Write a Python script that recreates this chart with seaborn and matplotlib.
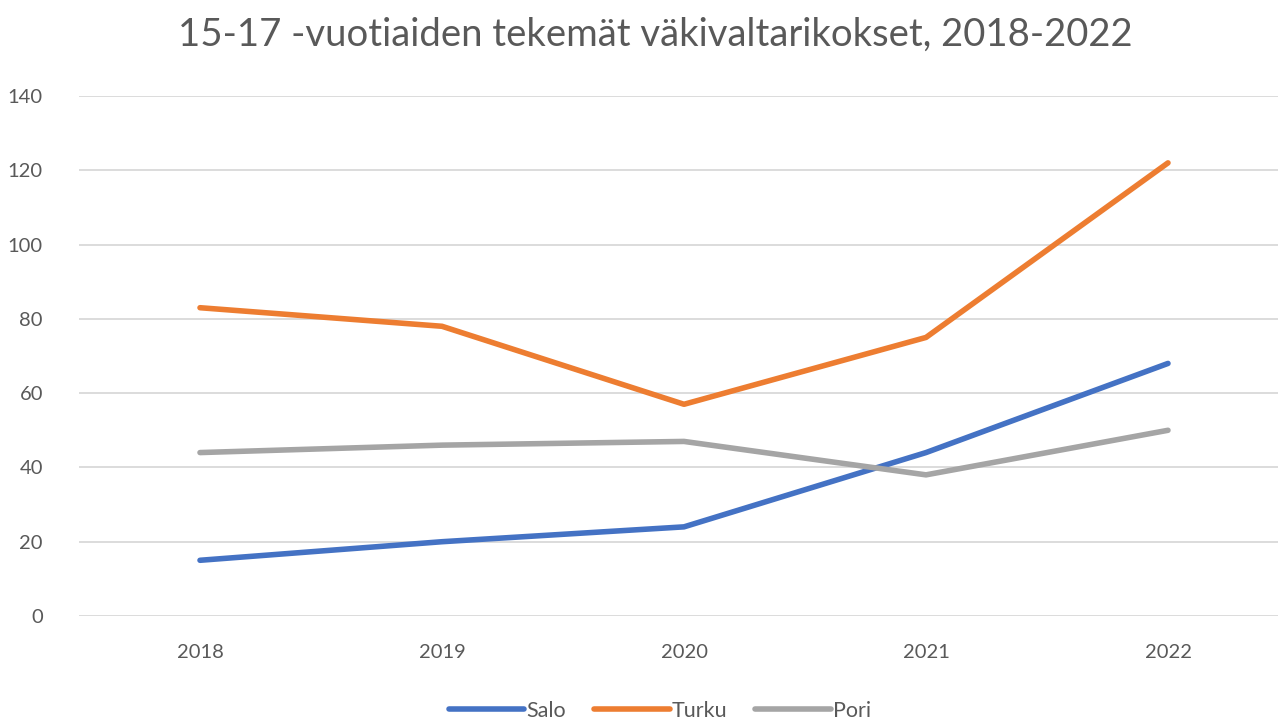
import matplotlib
matplotlib.use("Agg")
import matplotlib.pyplot as plt
import seaborn as sns
import pandas as pd

years = ["2018", "2019", "2020", "2021", "2022"]
salo = [15, 20, 24, 44, 68]
turku = [83, 78, 57, 75, 122]
pori = [44, 46, 47, 38, 50]
cities = ["Salo", "Turku", "Pori"]
colors = ["#4472C4", "#ED7D31", "#A5A5A5"]

rows = []
for city, vals in zip(cities, [salo, turku, pori]):
    for y, v in zip(years, vals):
        rows.append({"Vuosi": y, "Määrä": v, "Kunta": city})
df = pd.DataFrame(rows)

sns.set_theme(style="white")
plt.rcParams["font.family"] = ["Lato", "DejaVu Sans"]

fig = plt.figure(figsize=(12.78, 7.24), dpi=100)
ax = fig.add_axes([79 / 1278, 1 - 616 / 724, 1199 / 1278, 520 / 724])

sns.lineplot(data=df, x="Vuosi", y="Määrä", hue="Kunta", palette=colors,
             linewidth=4.0, ax=ax, sort=False)
for line in ax.get_lines():
    line.set_solid_capstyle("round")
    line.set_solid_joinstyle("round")

ax.set_ylim(0, 140)
ax.set_yticks(range(0, 141, 20))
ax.set_xlim(-0.5, -0.5 + 1199 / 242)
ax.yaxis.grid(True, color="#d9d9d9", linewidth=1.3)
ax.xaxis.grid(False)
for s in ax.spines.values():
    s.set_visible(False)
ax.tick_params(axis="both", colors="#595959", labelsize=14.5, length=0)
ax.tick_params(axis="x", pad=20)
ax.tick_params(axis="y", pad=26)
ax.set_xlabel("")
ax.set_ylabel("")

fig.text(655 / 1278, 1 - 35 / 724, "15-17 -vuotiaiden tekemät väkivaltarikokset, 2018-2022",
         ha="center", va="center", fontsize=27.5, color="#595959")

handles, labels = ax.get_legend_handles_labels()
ax.get_legend().remove()
fig.legend(handles, labels, loc="center", bbox_to_anchor=(660 / 1278, 1 - 711 / 724),
           ncol=3, frameon=False, fontsize=15.5, labelcolor="#595959",
           handlelength=3.5, handletextpad=0.1, columnspacing=1.3)

fig.savefig("out.png", dpi=100)
